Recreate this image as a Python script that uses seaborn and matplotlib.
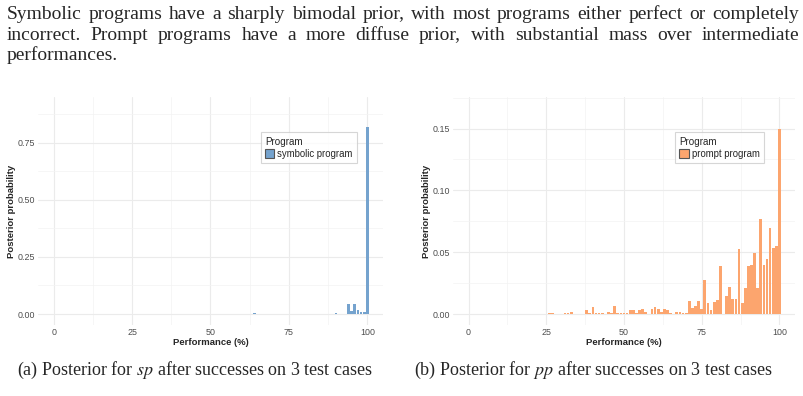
import pandas as pd
import seaborn as sns
import matplotlib.pyplot as plt
from matplotlib.ticker import FixedLocator

# text of the page around the figure
body_lines = [
    "Symbolic programs have a sharply bimodal prior, with most programs either perfect or completely",
    "incorrect.  Prompt programs have a more diffuse prior, with substantial mass over intermediate",
    "performances.",
]
caption_a = "(a) Posterior for $sp$ after successes on 3 test cases"
caption_b = "(b) Posterior for $pp$ after successes on 3 test cases"

# symbolic program posterior (performance %, probability)
sp_perf = [17, 25, 33, 40, 48, 50, 52, 62, 64, 71, 73, 75, 77, 80, 82, 83, 86, 88,
           90, 91, 94, 95, 96, 97, 98, 99, 100]
sp_prob = [0.0005, 0.0005, 0.001, 0.0015, 0.0005, 0.0008, 0.0005, 0.0008, 0.006, 0.001,
           0.001, 0.001, 0.001, 0.0008, 0.0015, 0.002, 0.001, 0.0015, 0.005, 0.001,
           0.046, 0.015, 0.046, 0.019, 0.009, 0.011, 0.817]

# prompt program posterior
pp_perf = [22, 25, 26, 27, 31, 32, 33, 35, 38, 39, 40, 41, 42, 43, 45, 46, 47, 48, 49,
           50, 51, 52, 53, 54, 55, 56, 57, 59, 60, 61, 62, 63, 64, 65, 67, 68, 69, 70,
           71, 72, 73, 74, 75, 76, 77, 78, 79, 80, 81, 82, 83, 84, 85, 86, 87, 88, 89,
           90, 91, 92, 93, 94, 95, 96, 97, 98, 99, 100]
pp_prob = [0.0003, 0.0003, 0.0005, 0.0005, 0.0005, 0.0005, 0.0018, 0.0003, 0.0035, 0.001,
           0.0055, 0.0005, 0.0005, 0.001, 0.0018, 0.0005, 0.0065, 0.001, 0.001,
           0.0005, 0.0005, 0.0035, 0.003, 0.001, 0.0035, 0.0045, 0.0015, 0.004, 0.0058,
           0.004, 0.0015, 0.004, 0.003, 0.0005, 0.002, 0.002, 0.001, 0.001,
           0.0105, 0.005, 0.0065, 0.0108, 0.0042, 0.0278, 0.0088, 0.003, 0.0095, 0.0115,
           0.0388, 0.0003, 0.0148, 0.0218, 0.0122, 0.0125, 0.0525, 0.009, 0.021,
           0.0388, 0.0398, 0.0492, 0.0212, 0.077, 0.0398, 0.0442, 0.0698, 0.0532, 0.0548,
           0.150]

sp_df = pd.DataFrame({"perf": sp_perf, "prob": sp_prob, "Program": "symbolic program"})
pp_df = pd.DataFrame({"perf": pp_perf, "prob": pp_prob, "Program": "prompt program"})

sns.set_theme(style="white")
plt.rcParams['font.family'] = ['Liberation Sans', 'DejaVu Sans']
plt.rcParams['mathtext.fontset'] = 'stix'

W, H = 804, 396
fig = plt.figure(figsize=(W / 100, H / 100), dpi=100)
ax1 = fig.add_axes([38 / W, 1 - 325 / H, 345 / W, 228 / H])
ax2 = fig.add_axes([453 / W, 1 - 325 / H, 342 / W, 228 / H])


def draw_panel(ax, df, color, ylim, yticks, yminor, ylabels, legend_x):
    sns.histplot(data=df, x="perf", weights="prob", hue="Program", discrete=True,
                 shrink=0.88, palette=[color], alpha=1, linewidth=0, ax=ax)
    ax.set_xlim(-5, 105)
    ax.set_ylim(*ylim)
    ax.set_xticks([0, 25, 50, 75, 100])
    ax.set_xticklabels(["0", "25", "50", "75", "100"])
    ax.xaxis.set_minor_locator(FixedLocator([12.5, 37.5, 62.5, 87.5]))
    ax.set_yticks(yticks)
    ax.set_yticklabels(ylabels)
    ax.yaxis.set_minor_locator(FixedLocator(yminor))
    ax.grid(which="major", color="#EBEBEB", linewidth=0.8)
    ax.grid(which="minor", color="#F3F3F3", linewidth=0.5)
    ax.set_axisbelow(True)
    for s in ax.spines.values():
        s.set_visible(False)
    ax.tick_params(which="both", length=0, labelsize=6.4, labelcolor="#4D4D4D", pad=2)
    ax.set_xlabel("Performance (%)", fontsize=6.8, fontweight="bold", labelpad=1)
    ax.set_ylabel("Posterior probability", fontsize=6.8, fontweight="bold", labelpad=1.5)
    sns.move_legend(ax, "upper left", bbox_to_anchor=(legend_x, 0.845), frameon=True,
                    fontsize=6.9, title_fontsize=7.1, fancybox=False,
                    edgecolor="#CCCCCC", borderpad=0.45, handlelength=1.0,
                    handleheight=1.0, handletextpad=0.3, labelspacing=0.25,
                    borderaxespad=0)
    leg = ax.get_legend()
    leg.get_frame().set_linewidth(0.8)
    leg._legend_box.align = "left"
    for h in leg.legend_handles:
        h.set_edgecolor("#555555")
        h.set_linewidth(0.8)


draw_panel(ax1, sp_df, "#75A3CE", (-0.048, 0.95),
           [0, 0.25, 0.5, 0.75], [0.125, 0.375, 0.625, 0.875],
           ["0.00", "0.25", "0.50", "0.75"], 0.645)
draw_panel(ax2, pp_df, "#FCA56E", (-0.0088, 0.1755),
           [0, 0.05, 0.10, 0.15], [0.025, 0.075, 0.125, 0.175],
           ["0.00", "0.05", "0.10", "0.15"], 0.649)

# paragraph lines, justified like the page
serif = ['Liberation Serif', 'DejaVu Serif']
renderer = fig.canvas.get_renderer()
x_left, x_right = 7, 799
baselines = [19, 39.5, 60]
body_size = 14
for i, line in enumerate(body_lines):
    yb = 1 - baselines[i] / H
    words = line.split()
    if i == len(body_lines) - 1:
        fig.text(x_left / W, yb, line, family=serif, fontsize=body_size, va="baseline")
        continue
    arts = [fig.text(0, yb, w, family=serif, fontsize=body_size, va="baseline") for w in words]
    widths = [a.get_window_extent(renderer).width for a in arts]
    gap = (x_right - x_left - sum(widths)) / (len(words) - 1)
    x = x_left
    for a, wd in zip(arts, widths):
        a.set_x(x / W)
        x += wd + gap

fig.text(195 / W, 1 - 370 / H, caption_a, family=serif, fontsize=13, ha="center", va="center")
fig.text(593 / W, 1 - 370 / H, caption_b, family=serif, fontsize=13, ha="center", va="center")

fig.savefig("out.png", dpi=100)
